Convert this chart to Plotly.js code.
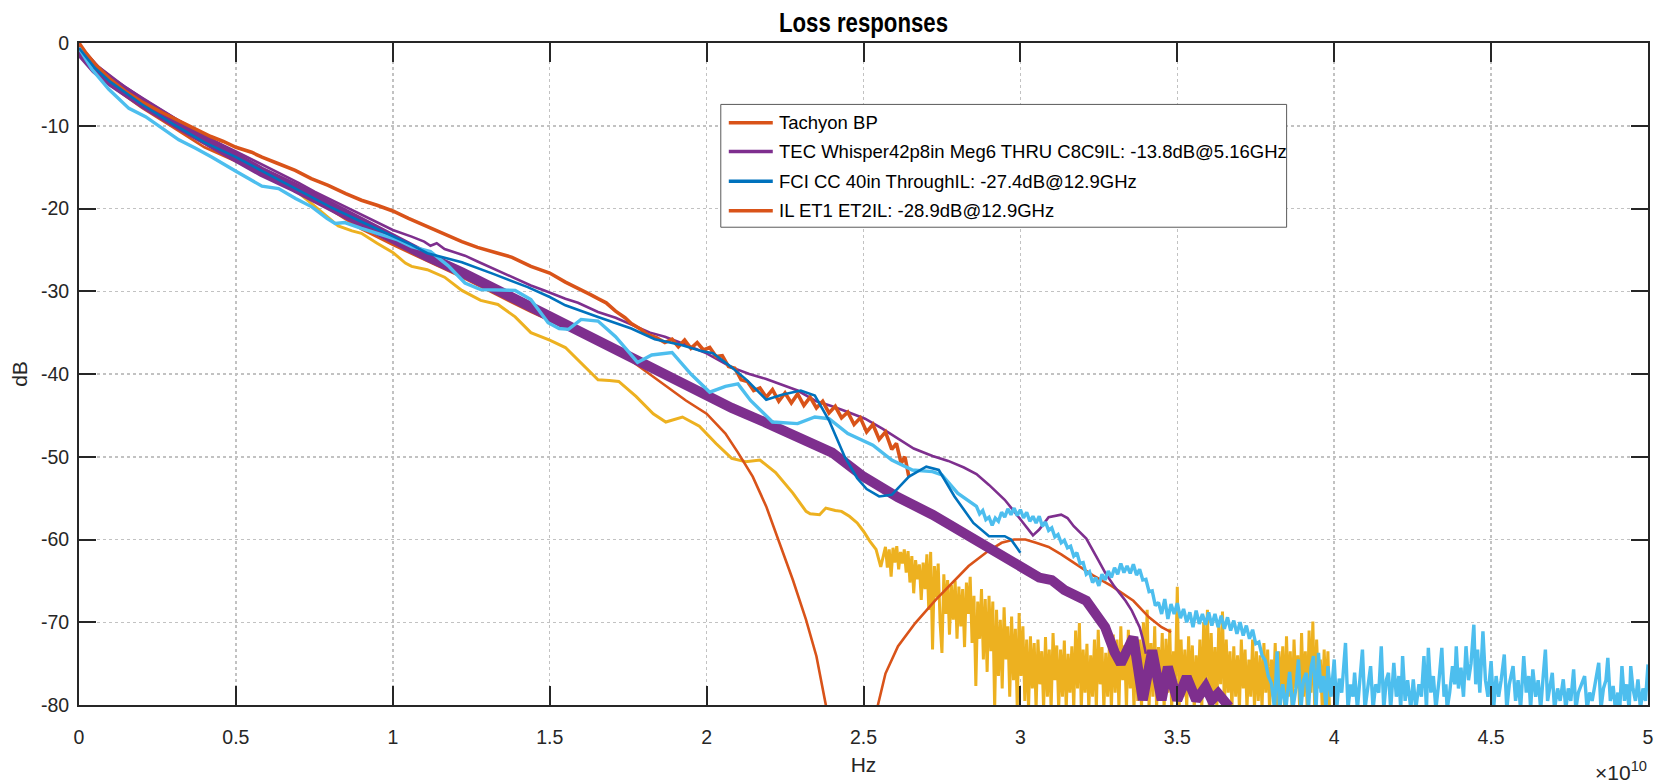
<!DOCTYPE html>
<html>
<head>
<meta charset="utf-8">
<script src="https://cdn.plot.ly/plotly-3.0.1.min.js"></script>
<style>
  html, body { margin: 0; padding: 0; background: #ffffff; }
  #chart { width: 1659px; height: 784px; }
</style>
</head>
<body>
<div id="chart"></div>
<script>
// Frequencies are given in units of 1e10 Hz (the axis shows "x10^10"), values in dB.
const xTickVals = [0, 0.5, 1, 1.5, 2, 2.5, 3, 3.5, 4, 4.5, 5];
const xTickText = ['0', '0.5', '1', '1.5', '2', '2.5', '3', '3.5', '4', '4.5', '5'];
const yTickVals = [-80, -70, -60, -50, -40, -30, -20, -10, 0];
const yTickText = ['-80', '-70', '-60', '-50', '-40', '-30', '-20', '-10', '0'];

const legendLabels = [
  'Tachyon BP',
  'TEC Whisper42p8in Meg6 THRU C8C9IL: -13.8dB@5.16GHz',
  'FCI CC 40in ThroughIL: -27.4dB@12.9GHz',
  'IL ET1 ET2IL: -28.9dB@12.9GHz'
];

const tachyonBP = [[0,0],[0.02,-1.1],[0.05,-2.5],[0.1,-4.4],[0.15,-5.9],[0.2,-7.1],[0.265,-8.4],[0.32,-9.4],[0.37,-10.3],[0.42,-11.3],[0.46,-11.9],[0.5,-12.6],[0.55,-13.2],[0.583,-13.8],[0.63,-14.5],[0.689,-15.4],[0.74,-16.4],[0.794,-17.2],[0.85,-18.2],[0.9,-19.0],[0.95,-19.6],[1.0,-20.3],[1.05,-21.2],[1.11,-22.2],[1.16,-23.1],[1.22,-24.0],[1.27,-24.7],[1.32,-25.2],[1.38,-25.9],[1.44,-27.0],[1.5,-27.8],[1.55,-28.9],[1.6,-29.8],[1.63,-30.4],[1.654,-30.9],[1.68,-31.4],[1.71,-32.4],[1.74,-33.2],[1.76,-33.9],[1.79,-34.6],[1.81,-35.2],[1.84,-35.6],[1.867,-36.2],[1.89,-35.8],[1.91,-36.7],[1.93,-35.9],[1.95,-36.9],[1.97,-36.2],[1.99,-37.1],[2.01,-36.8],[2.03,-37.9],[2.05,-37.8],[2.07,-39.1],[2.09,-39.3],[2.11,-40.7],[2.13,-40.9],[2.15,-42.0],[2.17,-41.7],[2.19,-42.8],[2.21,-41.9],[2.23,-43.3],[2.25,-42.3],[2.27,-43.5],[2.29,-42.4],[2.31,-43.8],[2.33,-42.8],[2.35,-44.1],[2.37,-43.3],[2.39,-44.7],[2.41,-43.9],[2.43,-45.3],[2.45,-44.6],[2.47,-46.1],[2.49,-45.3],[2.51,-47.0],[2.53,-46.1],[2.55,-47.9],[2.57,-47.0],[2.59,-49.1],[2.605,-48.4],[2.62,-50.8],[2.632,-50.0],[2.645,-52.5]];

const tecUpper = [[0,-0.2],[0.03,-1.6],[0.06,-2.8],[0.1,-4.0],[0.15,-5.4],[0.2,-6.6],[0.3,-9.0],[0.4,-11.3],[0.5,-13.1],[0.6,-15.0],[0.7,-16.9],[0.752,-18.0],[0.8,-18.9],[0.847,-19.8],[0.9,-20.8],[0.953,-21.8],[1.0,-22.6],[1.06,-23.4],[1.1,-24.0],[1.12,-24.5],[1.14,-24.2],[1.165,-24.9],[1.2,-25.3],[1.23,-25.7],[1.27,-26.4],[1.335,-27.5],[1.377,-28.2],[1.44,-29.3],[1.483,-29.9],[1.55,-30.9],[1.59,-31.4],[1.654,-32.5],[1.71,-33.2],[1.76,-34.0],[1.82,-35.0],[1.867,-35.5],[1.93,-36.4],[2.0,-37.5],[2.05,-38.6],[2.08,-39.2],[2.136,-40.0],[2.19,-40.6],[2.24,-41.3],[2.29,-42.0],[2.35,-43.3],[2.4,-43.9],[2.45,-44.6],[2.505,-45.4],[2.56,-46.6],[2.61,-47.8],[2.66,-49.0],[2.72,-49.9],[2.77,-50.5],[2.82,-51.3],[2.86,-52.1],[2.9,-53.4],[2.95,-55.2],[2.98,-56.6],[3.016,-58.4],[3.04,-59.5],[3.06,-58.8],[3.09,-57.3],[3.13,-57.0],[3.15,-57.4],[3.17,-58.4],[3.21,-59.9],[3.25,-62.6],[3.27,-64.0],[3.3,-65.7],[3.335,-67.4],[3.355,-68.6],[3.38,-70.6],[3.39,-72.0],[3.4,-73.8]];

const tecMain = [[0,-0.9],[0.02,-1.9],[0.053,-3.2],[0.106,-4.8],[0.159,-6.2],[0.212,-7.5],[0.318,-9.9],[0.424,-12.3],[0.5,-13.9],[0.583,-15.6],[0.689,-17.5],[0.794,-19.6],[0.9,-21.9],[1.0,-23.8],[1.11,-25.8],[1.22,-27.7],[1.335,-29.9],[1.44,-32.0],[1.55,-33.9],[1.654,-35.9],[1.76,-37.9],[1.867,-40.2],[2.0,-42.5],[2.08,-44.1],[2.19,-45.9],[2.29,-47.5],[2.4,-49.5],[2.5,-52.4],[2.61,-54.9],[2.72,-57.0],[2.825,-59.4],[2.93,-61.6],[3.0,-63.2],[3.06,-64.6],[3.1,-64.9],[3.14,-66.1],[3.21,-67.4],[3.24,-68.8],[3.27,-70.6],[3.3,-73.6],[3.32,-75.0],[3.36,-71.8],[3.39,-79.4],[3.42,-73.4],[3.45,-79.4],[3.47,-75.4],[3.5,-79.4],[3.53,-76.6],[3.56,-79.4],[3.59,-77.8],[3.61,-79.4],[3.63,-78.6],[3.665,-80.2]];

const fciThrough = [[0,-0.6],[0.05,-3.0],[0.1,-4.7],[0.2,-7.4],[0.3,-9.8],[0.4,-12.0],[0.5,-13.8],[0.6,-15.8],[0.7,-17.8],[0.8,-19.8],[0.9,-21.6],[1.0,-23.3],[1.06,-24.4],[1.11,-25.4],[1.22,-26.5],[1.32,-27.9],[1.43,-29.5],[1.5,-30.7],[1.55,-31.7],[1.654,-33.1],[1.76,-34.5],[1.835,-35.8],[1.92,-36.5],[1.98,-37.2],[2.02,-37.5],[2.08,-39.2],[2.13,-40.8],[2.19,-43.1],[2.24,-42.5],[2.3,-42.0],[2.345,-42.6],[2.39,-45.6],[2.44,-50.0],[2.48,-52.6],[2.51,-53.9],[2.55,-54.8],[2.59,-54.6],[2.645,-52.4],[2.7,-51.2],[2.74,-51.6],[2.79,-54.8],[2.85,-58.0],[2.9,-59.6],[2.95,-59.6],[2.97,-60.0],[3.0,-61.6]];

const lightBlue = [[0,-0.6],[0.042,-3.2],[0.095,-5.6],[0.159,-7.9],[0.212,-8.9],[0.26,-10.2],[0.318,-11.7],[0.37,-12.7],[0.424,-13.8],[0.5,-15.5],[0.55,-16.6],[0.583,-17.3],[0.636,-17.6],[0.69,-18.8],[0.742,-19.8],[0.79,-21.2],[0.816,-21.8],[0.847,-21.7],[0.9,-22.4],[0.953,-23.0],[1.016,-23.8],[1.06,-24.6],[1.12,-25.2],[1.176,-26.9],[1.23,-29.0],[1.28,-29.8],[1.335,-29.9],[1.39,-29.9],[1.44,-31.0],[1.495,-33.8],[1.53,-34.5],[1.56,-34.6],[1.6,-33.4],[1.654,-33.6],[1.71,-35.5],[1.78,-38.6],[1.825,-37.7],[1.89,-37.4],[1.95,-40.0],[2.01,-42.2],[2.06,-41.5],[2.1,-41.2],[2.14,-43.2],[2.21,-45.8],[2.29,-46.0],[2.345,-45.2],[2.39,-45.4],[2.45,-47.2],[2.53,-48.6],[2.59,-50.4],[2.656,-51.6],[2.72,-51.8],[2.75,-52.2],[2.8,-54.4],[2.86,-56.0],
[2.87,-56.9],[2.88,-56.5],[2.89,-57.6],[2.9,-57.3],[2.91,-58.3],[2.92,-57.4],[2.93,-57.8],[2.94,-56.7],[2.95,-57.3],[2.96,-56.3],[2.97,-57.0],[2.98,-56.2],[2.99,-57.1],[3.0,-56.4],[3.01,-57.4],[3.02,-56.7],[3.03,-57.8],[3.04,-57.2],[3.05,-58.0],[3.06,-57.2],[3.07,-58.4],[3.08,-57.9],[3.09,-58.9],[3.1,-58.6],[3.11,-59.7],[3.12,-59.4],[3.13,-60.4],[3.14,-60.1],[3.15,-61.0],[3.16,-60.8],[3.17,-62.0],[3.18,-61.6],[3.19,-62.9],[3.2,-62.8],[3.21,-64.2],[3.22,-63.9],[3.23,-65.2],[3.24,-64.6],[3.25,-65.6],[3.26,-64.2],[3.27,-64.9],[3.28,-63.8],[3.29,-64.6],[3.3,-63.4],[3.31,-64.2],[3.32,-62.9],[3.33,-64.0],[3.34,-63.2],[3.35,-64.1],[3.36,-63.0],[3.37,-64.3],[3.38,-63.6],[3.39,-64.9],[3.4,-64.8],[3.41,-66.3],[3.42,-66.2],[3.43,-68.0],[3.44,-67.6],[3.45,-69.0],[3.46,-67.2],[3.47,-69.6],[3.48,-67.8],[3.49,-69.0],[3.5,-67.7],[3.51,-69.5],[3.52,-68.4],[3.53,-70.0],[3.54,-68.8],[3.55,-70.6],[3.56,-68.6],[3.57,-70.2],[3.58,-69.0],[3.59,-70.3],[3.6,-68.8],[3.61,-70.4],[3.62,-69.0],[3.63,-70.6],[3.64,-69.2],[3.65,-70.8],[3.66,-69.4],[3.67,-71.0],[3.68,-69.8],[3.69,-71.4],[3.7,-70.0],[3.71,-71.6],[3.72,-70.4],[3.73,-72.0],[3.74,-70.9],[3.75,-72.6],[3.76,-72.4],[3.77,-74.0],[3.78,-74.6],[3.79,-76.5],[3.8,-77.4],[3.81,-80.5],
[3.818,-73.5],[3.826,-80.5],[3.836,-77.5],[3.846,-80.5],[3.858,-76.0],[3.868,-80.5],[3.878,-78.0],[3.886,-74.5],[3.894,-80.5],[3.902,-77.0],[3.911,-76.1],[3.918,-80.5],[3.926,-75.5],[3.934,-74.1],[3.942,-80.5],[3.95,-73.7],[3.958,-78.5],[3.966,-76.5],[3.974,-80.5],[3.98,-75.3],[3.99,-79.0],[4.0,-74.5],[4.008,-80.5],[4.016,-76.8],[4.024,-78.5],[4.036,-72.5],[4.044,-80.5],[4.052,-77.5],[4.06,-79.0],[4.065,-76.1],[4.074,-80.5],[4.082,-77.0],[4.09,-73.3],[4.098,-80.5],[4.106,-78.0],[4.116,-75.3],[4.124,-80.5],[4.132,-77.5],[4.142,-78.5],[4.15,-72.9],[4.158,-80.5],[4.166,-77.0],[4.173,-76.1],[4.18,-80.5],[4.19,-74.9],[4.198,-79.0],[4.206,-76.5],[4.212,-80.5],[4.218,-74.1],[4.226,-79.5],[4.234,-77.0],[4.244,-80.5],[4.252,-76.9],[4.26,-80.5],[4.27,-77.5],[4.278,-79.0],[4.286,-74.1],[4.294,-80.5],[4.3,-73.1],[4.308,-78.5],[4.316,-76.5],[4.324,-80.5],[4.334,-77.0],[4.343,-73.1],[4.35,-79.0],[4.356,-77.5],[4.36,-80.5],[4.368,-78.5],[4.377,-75.3],[4.384,-77.5],[4.389,-72.9],[4.396,-78.0],[4.404,-75.5],[4.412,-79.0],[4.42,-72.9],[4.428,-77.0],[4.436,-75.0],[4.445,-70.3],[4.451,-77.5],[4.457,-73.3],[4.464,-78.5],[4.474,-71.1],[4.482,-77.0],[4.49,-79.0],[4.5,-74.7],[4.508,-80.5],[4.516,-76.5],[4.524,-79.0],[4.532,-77.0],[4.542,-73.9],[4.55,-80.5],[4.558,-77.5],[4.57,-75.3],[4.578,-79.5],[4.586,-77.0],[4.594,-80.5],[4.604,-74.1],[4.612,-78.5],[4.62,-76.5],[4.626,-80.5],[4.633,-75.7],[4.642,-79.0],[4.65,-77.0],[4.658,-80.5],[4.666,-76.5],[4.673,-73.3],[4.68,-79.5],[4.688,-77.5],[4.695,-76.1],[4.702,-80.5],[4.712,-78.0],[4.72,-79.5],[4.73,-76.9],[4.738,-80.5],[4.746,-78.0],[4.754,-79.5],[4.763,-75.7],[4.77,-80.5],[4.778,-78.5],[4.788,-77.5],[4.798,-76.5],[4.806,-80.5],[4.814,-78.5],[4.822,-79.5],[4.832,-77.5],[4.843,-74.9],[4.85,-80.5],[4.858,-78.0],[4.866,-77.0],[4.872,-74.3],[4.88,-79.5],[4.889,-77.7],[4.896,-80.5],[4.904,-78.5],[4.91,-80.5],[4.917,-75.3],[4.925,-79.5],[4.932,-77.5],[4.94,-80.5],[4.945,-75.3],[4.952,-78.0],[4.96,-79.5],[4.968,-76.9],[4.976,-80.5],[4.984,-78.0],[4.992,-79.5],[5.0,-75.1]];

const yellowTrace = [[0,-0.9],[0.1,-4.9],[0.2,-7.5],[0.3,-9.9],[0.4,-12.1],[0.5,-14.0],[0.6,-16.0],[0.7,-18.1],[0.773,-20.4],[0.826,-22.1],[0.87,-22.7],[0.9,-23.0],[0.95,-24.2],[1.0,-25.3],[1.04,-26.6],[1.06,-27.0],[1.11,-27.4],[1.165,-28.3],[1.22,-29.9],[1.28,-31.1],[1.335,-31.6],[1.39,-33.1],[1.44,-35.0],[1.5,-35.9],[1.55,-36.8],[1.6,-38.7],[1.654,-40.7],[1.69,-40.8],[1.72,-40.9],[1.775,-42.7],[1.83,-44.8],[1.87,-45.8],[1.923,-45.2],[1.977,-46.3],[2.03,-48.4],[2.08,-50.2],[2.125,-50.6],[2.17,-50.4],[2.22,-51.9],[2.275,-54.4],[2.317,-56.6],[2.33,-56.9],[2.36,-57.0],[2.38,-56.2],[2.41,-56.5],[2.43,-56.6],[2.455,-57.2],[2.48,-58.0],[2.5,-59.0],[2.52,-60.2],[2.54,-61.2],[2.555,-63.3],
[2.57,-60.9],[2.576,-63.4],[2.582,-61.2],[2.588,-64.5],[2.594,-61.0],[2.6,-62.8],[2.606,-60.8],[2.612,-63.6],[2.618,-61.5],[2.624,-62.9],[2.63,-61.2],[2.636,-64.0],[2.642,-61.4],[2.648,-65.2],[2.654,-62.0],[2.66,-66.5],[2.666,-62.5],[2.672,-64.8],[2.678,-63.0],[2.684,-67.3],[2.69,-62.8],[2.696,-66.0],[2.702,-61.8],[2.708,-68.5],[2.714,-61.5],[2.72,-73.3],[2.726,-63.2],[2.732,-67.0],[2.738,-62.9],[2.744,-70.0],[2.75,-73.7],[2.756,-64.2],[2.762,-69.0],[2.768,-64.9],[2.774,-71.5],[2.78,-65.5],[2.786,-69.7],[2.792,-65.0],[2.798,-72.0],[2.804,-65.7],[2.81,-70.5],[2.816,-66.0],[2.822,-73.0],[2.828,-65.2],[2.834,-69.0],[2.84,-64.5],[2.846,-72.5],[2.852,-66.8],[2.858,-77.7],[2.864,-67.5],[2.87,-72.0],[2.876,-66.0],[2.882,-74.5],[2.888,-67.2],[2.894,-76.0],[2.9,-66.8],[2.906,-73.5],[2.912,-67.5],[2.918,-80.5],[2.924,-68.5],[2.93,-76.5],[2.936,-69.7],[2.942,-78.0],[2.948,-68.2],[2.954,-74.5],[2.96,-70.5],[2.966,-79.0],[2.972,-69.3],[2.978,-77.0],[2.984,-70.8],[2.99,-80.5],[2.996,-68.9],[3.002,-76.5],[3.008,-70.5],[3.014,-79.5],[3.02,-72.1],[3.026,-80.5],[3.032,-71.7],[3.038,-78.0],[3.044,-72.5],[3.05,-80.5],[3.056,-72.1],[3.062,-77.5],[3.068,-73.5],[3.074,-80.5],[3.08,-71.8],[3.086,-79.0],[3.092,-73.3],[3.098,-80.5],[3.104,-71.3],[3.11,-77.0],[3.116,-72.8],[3.122,-80.5],[3.128,-73.3],[3.134,-79.0],[3.14,-72.2],[3.146,-80.5],[3.152,-73.8],[3.158,-78.5],[3.164,-72.9],[3.17,-80.5],[3.176,-71.0],[3.182,-78.0],[3.188,-70.1],[3.194,-80.5],[3.2,-73.3],[3.206,-78.5],[3.212,-72.6],[3.218,-80.5],[3.224,-74.0],[3.23,-79.0],[3.236,-72.1],[3.242,-80.5],[3.248,-70.9],[3.254,-77.5],[3.26,-73.0],[3.266,-80.5],[3.272,-73.7],[3.278,-79.0],[3.284,-72.4],[3.29,-80.5],[3.296,-71.5],[3.302,-78.5],[3.308,-72.1],[3.314,-80.5],[3.32,-70.5],[3.326,-77.0],[3.332,-72.8],[3.338,-80.5],[3.344,-70.9],[3.35,-78.0],[3.356,-73.5],[3.362,-80.5],[3.368,-71.8],[3.374,-79.5],[3.38,-72.1],[3.386,-80.5],[3.392,-70.0],[3.398,-76.0],[3.404,-68.5],[3.41,-80.5],[3.416,-72.5],[3.422,-79.0],[3.428,-70.5],[3.434,-80.5],[3.44,-73.0],[3.446,-78.0],[3.452,-71.3],[3.458,-80.5],[3.464,-72.0],[3.47,-78.5],[3.476,-70.8],[3.482,-80.5],[3.488,-73.5],[3.494,-77.0],[3.5,-65.7],[3.506,-80.5],[3.512,-72.1],[3.518,-79.0],[3.524,-73.3],[3.53,-80.5],[3.536,-71.7],[3.542,-78.5],[3.548,-72.8],[3.554,-80.5],[3.56,-74.0],[3.566,-79.0],[3.572,-72.1],[3.578,-80.5],[3.584,-70.0],[3.59,-77.0],[3.596,-68.5],[3.602,-80.5],[3.608,-71.3],[3.614,-79.0],[3.62,-73.0],[3.626,-80.5],[3.632,-70.5],[3.638,-77.5],[3.644,-68.7],[3.65,-80.5],[3.656,-72.1],[3.662,-78.5],[3.668,-73.5],[3.674,-80.5],[3.68,-72.9],[3.686,-79.0],[3.692,-74.0],[3.698,-80.5],[3.704,-72.1],[3.71,-78.0],[3.716,-73.3],[3.722,-80.5],[3.728,-74.5],[3.734,-79.0],[3.74,-72.1],[3.746,-80.5],[3.752,-73.5],[3.758,-79.5],[3.764,-74.0],[3.77,-80.5],[3.776,-72.5],[3.782,-78.5],[3.788,-73.3],[3.794,-80.5],[3.8,-74.5],[3.806,-79.0],[3.812,-72.5],[3.818,-80.5],[3.824,-73.5],[3.83,-78.5],[3.836,-72.9],[3.842,-80.5],[3.848,-71.7],[3.854,-79.0],[3.86,-73.5],[3.866,-80.5],[3.872,-72.1],[3.878,-78.0],[3.884,-74.0],[3.89,-80.5],[3.896,-71.3],[3.902,-79.0],[3.908,-73.5],[3.914,-80.5],[3.92,-71.0],[3.926,-78.5],[3.932,-69.9],[3.938,-80.5],[3.944,-72.1],[3.95,-78.0],[3.956,-74.5],[3.962,-80.5],[3.968,-73.3],[3.974,-79.0],[3.98,-73.5],[3.985,-80.5]];

const ilEt1Et2 = [[0,-1.0],[0.05,-3.4],[0.1,-5.1],[0.2,-7.8],[0.3,-10.2],[0.4,-12.6],[0.5,-14.3],[0.6,-16.1],[0.7,-18.0],[0.8,-20.1],[0.9,-22.5],[1.0,-24.4],[1.11,-26.4],[1.22,-28.3],[1.335,-30.5],[1.44,-32.5],[1.55,-34.4],[1.654,-36.3],[1.76,-38.4],[1.856,-41.0],[1.934,-43.2],[2.0,-44.8],[2.06,-47.2],[2.1,-49.5],[2.147,-52.4],[2.19,-56.0],[2.23,-60.1],[2.275,-64.9],[2.317,-69.7],[2.35,-74.1],[2.38,-80.0],[2.4,-84.5],[2.46,-90.0],[2.52,-85.5],[2.546,-80.0],[2.57,-76.2],[2.61,-72.9],[2.665,-70.1],[2.73,-67.3],[2.78,-65.3],[2.835,-63.2],[2.89,-61.6],[2.94,-60.4],[2.98,-60.0],[3.016,-60.0],[3.05,-60.4],[3.09,-60.9],[3.13,-61.8],[3.17,-62.8],[3.23,-64.3],[3.29,-65.6],[3.36,-67.4],[3.41,-69.4],[3.45,-70.6],[3.48,-71.2]];

const C = { orange: '#D95319', purple: '#7E2F8E', blue: '#0072BD', lightblue: '#4DBEEE', yellow: '#EDB120' };
const FONT = 'Liberation Sans, Arial, Helvetica, sans-serif';

function line(points, color, width) {
  return {
    type: 'scatter', mode: 'lines',
    x: points.map(p => p[0]), y: points.map(p => p[1]),
    line: { color: color, width: width, shape: 'linear' },
    showlegend: false, hoverinfo: 'skip'
  };
}

const traces = [
  line(yellowTrace, C.yellow, 3),
  line(ilEt1Et2, C.orange, 2.6),
  line(tecMain, C.purple, 10),
  line(tecUpper, C.purple, 2.6),
  line(tachyonBP, C.orange, 3.6),
  line(lightBlue, C.lightblue, 3.4),
  line(fciThrough, C.blue, 2.6)
];

// plot area in pixels
const L = 79, R = 1648.5, T = 42.5, B = 705.5;
const px = X => (X - L) / (R - L);
const py = Y => (B - Y) / (B - T);

const legendColors = [C.orange, C.purple, C.blue, C.orange];
const legendRowsY = [122.3, 151.2, 180.9, 210.6];
const shapes = [{
  type: 'rect', xref: 'paper', yref: 'paper',
  x0: px(721), x1: px(1287), y0: py(227), y1: py(104),
  line: { color: '#5a5a5a', width: 1 }, fillcolor: '#ffffff', layer: 'above'
}];
const annotations = [];
legendLabels.forEach((lab, i) => {
  shapes.push({
    type: 'line', xref: 'paper', yref: 'paper',
    x0: px(729), x1: px(773), y0: py(legendRowsY[i]), y1: py(legendRowsY[i]),
    line: { color: legendColors[i], width: 3.5 }, layer: 'above'
  });
  annotations.push({
    xref: 'paper', yref: 'paper', x: px(778), y: py(legendRowsY[i]),
    xanchor: 'left', yanchor: 'middle', showarrow: false, borderpad: 0,
    text: lab, font: { family: FONT, size: 18.5, color: '#000000' }
  });
});
annotations.push({
  xref: 'paper', yref: 'paper', x: 1, y: py(786), xanchor: 'right', yanchor: 'bottom',
  showarrow: false, borderpad: 0,
  text: '\u00d710<sup>10</sup>', font: { family: FONT, size: 21, color: '#262626' }
});

const axisCommon = {
  showline: true, linewidth: 2, linecolor: '#262626', mirror: 'ticks',
  ticks: 'inside', tickwidth: 2, tickcolor: '#262626',
  showgrid: true, gridcolor: '#c2c2c2', griddash: 'dot', gridwidth: 1.5,
  zeroline: false, fixedrange: true, automargin: false,
  tickfont: { family: FONT, size: 19.5, color: '#262626' }
};

const layout = {
  width: 1659, height: 784,
  margin: { l: L, r: 1659 - R, t: T, b: 784 - B, pad: 0 },
  paper_bgcolor: '#ffffff', plot_bgcolor: '#ffffff',
  showlegend: false,
  title: {
    text: 'Loss responses', x: 0.5, xref: 'paper', xanchor: 'center',
    y: 1 - 23 / 784, yref: 'container', yanchor: 'middle',
    font: { family: FONT, size: 27, color: '#000000', weight: 'bold' }
  },
  xaxis: Object.assign({}, axisCommon, {
    range: [0, 5], tickvals: xTickVals, ticktext: xTickText, ticklen: 19,
    ticklabelstandoff: 14,
    title: { text: 'Hz', standoff: 10, font: { family: FONT, size: 21, color: '#262626' } }
  }),
  yaxis: Object.assign({}, axisCommon, {
    range: [-80, 0], tickvals: yTickVals, ticktext: yTickText, ticklen: 17,
    ticklabelstandoff: 4,
    title: { text: 'dB', standoff: 8, font: { family: FONT, size: 21, color: '#262626' } }
  }),
  shapes: shapes,
  annotations: annotations
};

Plotly.newPlot('chart', traces, layout, { staticPlot: true, displayModeBar: false }).then(gd => {
  // the reference title uses a condensed bold face: squeeze the glyphs to its measured width
  const t = gd.querySelector('.gtitle');
  if (t) {
    t.setAttribute('textLength', '169');
    t.setAttribute('lengthAdjust', 'spacingAndGlyphs');
  }
});
</script>
</body>
</html>
